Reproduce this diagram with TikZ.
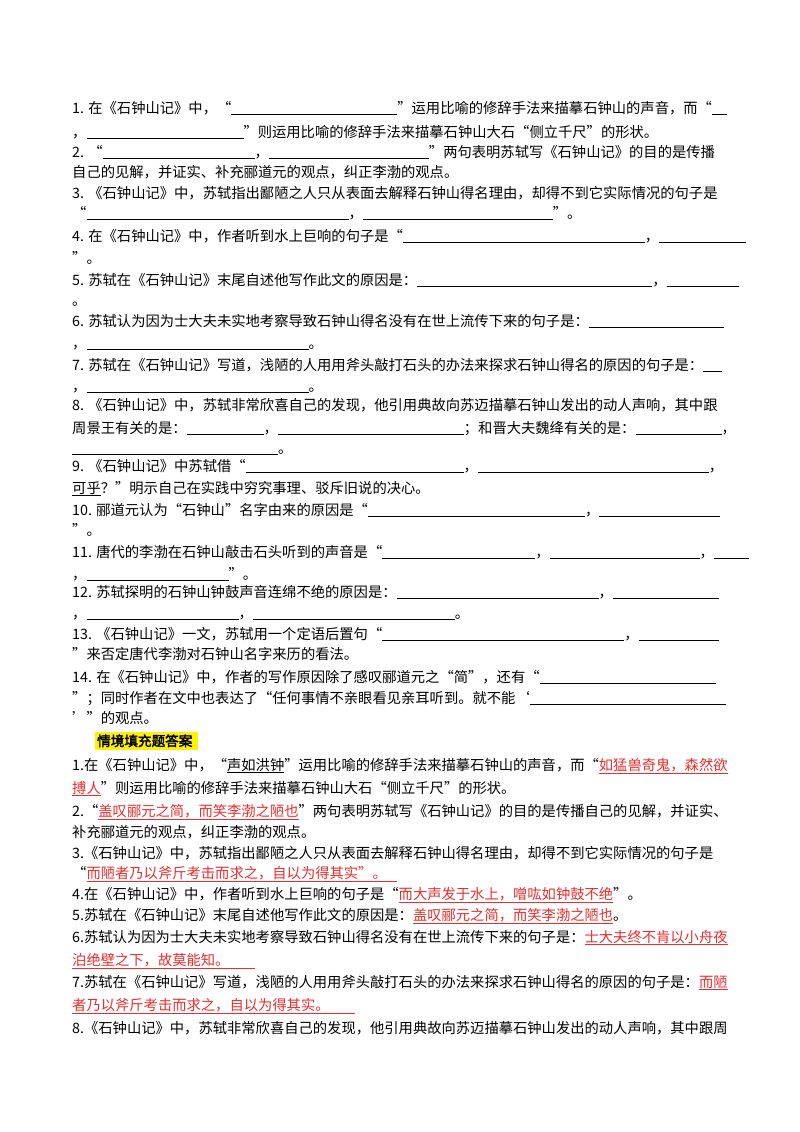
\documentclass[tikz,border=0pt]{standalone}
\usepackage{fontspec}
\setmainfont{Noto Sans CJK SC}[AutoFakeBold=2.5]
\usepackage{xcolor}
\definecolor{ansred}{RGB}{235,45,45}
\newcommand\bl[1]{\underline{\hspace{#1pt}}}
\newcommand\ans[1]{\textcolor{ansred}{\underline{#1}}}
\begin{document}
\begin{tikzpicture}[x=1pt,y=-1pt,
  ln/.style={anchor=base west,inner sep=0pt,font=\fontsize{14.3}{15}\selectfont},
  hd/.style={anchor=base west,inner sep=0pt,font=\fontsize{13.6}{15}\selectfont\bfseries}]
\useasboundingbox (0,0) rectangle (800,1132);
\fill[white] (0,0) rectangle (800,1132);
% questions
\node[ln] (q1a) at (72,113) {1. 在《石钟山记》中，“\bl{166}”运用比喻的修辞手法来描摹石钟山的声音，而“\bl{15}};
\node[ln] (q1b) at (72,137) {，\bl{157}”则运用比喻的修辞手法来描摹石钟山大石“侧立千尺”的形状。};
\node[ln] (q2a) at (72,157) {2. “\bl{152}，\bl{160}”两句表明苏轼写《石钟山记》的目的是传播};
\node[ln] (q2b) at (72,177) {自己的见解，并证实、补充郦道元的观点，纠正李渤的观点。};
\node[ln] (q3a) at (72,198) {3. 《石钟山记》中，苏轼指出鄙陋之人只从表面去解释石钟山得名理由，却得不到它实际情况的句子是};
\node[ln] (q3b) at (72,218) {“\bl{262}，\bl{190}”。};
\node[ln] (q4a) at (72,241) {4. 在《石钟山记》中，作者听到水上巨响的句子是“\bl{242}，\bl{87}};
\node[ln] (q4b) at (72,263) {”。};
\node[ln] (q5a) at (72,285) {5. 苏轼在《石钟山记》末尾自述他写作此文的原因是：\bl{235}，\bl{72}};
\node[ln] (q5b) at (72,305) {。};
\node[ln] (q6a) at (72,326) {6. 苏轼认为因为士大夫未实地考察导致石钟山得名没有在世上流传下来的句子是：\bl{135}};
\node[ln] (q6b) at (72,348) {，\bl{222}。};
\node[ln] (q7a) at (72,370) {7. 苏轼在《石钟山记》写道，浅陋的人用用斧头敲打石头的办法来探求石钟山得名的原因的句子是：\bl{19}};
\node[ln] (q7b) at (72,391) {，\bl{222}。};
\node[ln] (q8a) at (72,410) {8. 《石钟山记》中，苏轼非常欣喜自己的发现，他引用典故向苏迈描摹石钟山发出的动人声响，其中跟};
\node[ln] (q8b) at (72,433) {周景王有关的是：\bl{77}，\bl{186}；和晋大夫魏绛有关的是：\bl{86}，};
\node[ln] (q8c) at (72,453) {\bl{206}。};
\node[ln] (q9a) at (72,471) {9. 《石钟山记》中苏轼借“\bl{218}，\bl{231}，};
\node[ln] (q9b) at (72,493) {\underline{可乎}？”明示自己在实践中穷究事理、驳斥旧说的决心。};
\node[ln] (q10a) at (72,515) {10. 郦道元认为“石钟山”名字由来的原因是“\bl{217}，\bl{121}};
\node[ln] (q10b) at (72,535) {”。};
\node[ln] (q11a) at (72,557) {11. 唐代的李渤在石钟山敲击石头听到的声音是“\bl{153}，\bl{150}，\bl{35}};
\node[ln] (q11b) at (72,579) {，\bl{142}”。};
\node[ln] (q12a) at (72,597) {12. 苏轼探明的石钟山钟鼓声音连绵不绝的原因是：\bl{202}，\bl{106}};
\node[ln] (q12b) at (72,618) {，\bl{152}，\bl{202}。};
\node[ln] (q13a) at (72,639) {13. 《石钟山记》一文，苏轼用一个定语后置句“\bl{242}，\bl{80}};
\node[ln] (q13b) at (72,659) {”来否定唐代李渤对石钟山名字来历的看法。};
\node[ln] (q14a) at (72,682) {14. 在《石钟山记》中，作者的写作原因除了感叹郦道元之“简”，还有“\bl{176}};
\node[ln] (q14b) at (72,703) {”；同时作者在文中也表达了“任何事情不亲眼看见亲耳听到。就不能‘\bl{196}};
\node[ln] (q14c) at (72,723) {’”的观点。};
% header
\fill[yellow] (95,732) rectangle (198,750);
\node[hd] (hd) at (97,746) {情境填充题答案};
% answers
\node[ln] (a1a) at (72,770) {1.在《石钟山记》中，“\underline{声如洪钟}”运用比喻的修辞手法来描摹石钟山的声音，而“\ans{如猛兽奇鬼，森然欲}};
\node[ln] (a1b) at (72,793) {\ans{搏人}”则运用比喻的修辞手法来描摹石钟山大石“侧立千尺”的形状。};
\node[ln] (a2a) at (72,816) {2.“\ans{盖叹郦元之简，而笑李渤之陋也}”两句表明苏轼写《石钟山记》的目的是传播自己的见解，并证实、};
\node[ln] (a2b) at (72,837) {补充郦道元的观点，纠正李渤的观点。};
\node[ln] (a3a) at (72,858) {3.《石钟山记》中，苏轼指出鄙陋之人只从表面去解释石钟山得名理由，却得不到它实际情况的句子是};
\node[ln] (a3b) at (72,878) {“\ans{而陋者乃以斧斤考击而求之，自以为得其实”。\hspace{10pt}}};
\node[ln] (a4) at (72,899) {4.在《石钟山记》中，作者听到水上巨响的句子是“\ans{而大声发于水上，噌吰如钟鼓不绝}”。};
\node[ln] (a5) at (72,920) {5.苏轼在《石钟山记》末尾自述他写作此文的原因是：\ans{盖叹郦元之简，而笑李渤之陋也}。};
\node[ln] (a6a) at (72,942) {6.苏轼认为因为士大夫未实地考察导致石钟山得名没有在世上流传下来的句子是：\ans{士大夫终不肯以小舟夜}};
\node[ln] (a6b) at (72,965) {\ans{泊绝壁之下，故莫能知。\hspace{25pt}}};
\node[ln] (a7a) at (72,987) {7.苏轼在《石钟山记》写道，浅陋的人用用斧头敲打石头的办法来探求石钟山得名的原因的句子是：\ans{而陋}};
\node[ln] (a7b) at (72,1010) {\ans{者乃以斧斤考击而求之，自以为得其实。\hspace{25pt}}};
\node[ln] (a8) at (72,1033) {8.《石钟山记》中，苏轼非常欣喜自己的发现，他引用典故向苏迈描摹石钟山发出的动人声响，其中跟周};
\end{tikzpicture}
\end{document}
